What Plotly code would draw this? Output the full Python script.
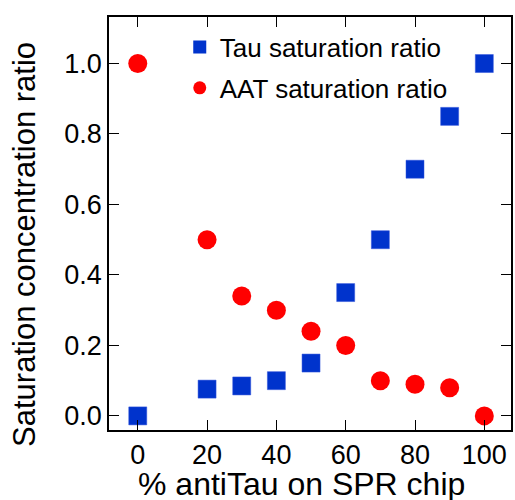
import plotly.graph_objects as go

pct_antitau = [0, 20, 30, 40, 50, 60, 70, 80, 90, 100]
tau_ratio = [0.0, 0.076, 0.085, 0.10, 0.15, 0.35, 0.50, 0.70, 0.85, 1.0]
aat_ratio = [1.0, 0.50, 0.34, 0.30, 0.24, 0.20, 0.10, 0.09, 0.08, 0.0]

x_ticks = [0, 20, 40, 60, 80, 100]
y_ticks = [0.0, 0.2, 0.4, 0.6, 0.8, 1.0]

x_title = "% antiTau on SPR chip"
y_title = "Saturation concentration ratio"

BLUE = "#0033CC"
RED = "#FF0000"
FONT = "Arial, Liberation Sans, sans-serif"

fig = go.Figure()
fig.add_trace(go.Scatter(x=pct_antitau, y=tau_ratio, mode="markers", showlegend=False,
                         marker=dict(symbol="square", size=18, color=BLUE,
                                     line=dict(color="#3355DD", width=0.5))))
fig.add_trace(go.Scatter(x=pct_antitau, y=aat_ratio, mode="markers", showlegend=False,
                         marker=dict(symbol="circle", size=19, color=RED, line=dict(width=0))))
# legend entries
fig.add_trace(go.Scatter(x=[None], y=[None], mode="markers", name="Tau saturation ratio",
                         legendgroup="tau",
                         marker=dict(symbol="square", size=13, color=BLUE)))
fig.add_trace(go.Scatter(x=[None], y=[None], mode="markers", name="AAT saturation ratio",
                         legendgroup="aat",
                         marker=dict(symbol="circle", size=13, color=RED)))

axis_common = dict(showline=True, linecolor="black", linewidth=1.5, mirror="allticks",
                   ticks="inside", ticklen=10, tickwidth=1.2, tickcolor="black",
                   showgrid=False, zeroline=False,
                   tickfont=dict(family=FONT, size=27, color="black"))

fig.update_xaxes(range=[-8.3, 107.7], tickvals=x_ticks, **axis_common)
fig.update_yaxes(range=[-0.04, 1.132], tickvals=y_ticks, tickformat=".1f", **axis_common)

fig.add_annotation(text=x_title, xref="paper", yref="paper", x=0.478, y=-0.131,
                   xanchor="center", yanchor="middle", showarrow=False,
                   font=dict(family=FONT, size=32, color="black"))
fig.add_annotation(text=y_title, xref="paper", yref="paper", x=-0.212, y=0.45,
                   xanchor="center", yanchor="middle", showarrow=False, textangle=-90,
                   font=dict(family=FONT, size=31, color="black"))

fig.update_layout(
    width=515, height=500,
    margin=dict(l=109, r=2, t=17, b=70),
    paper_bgcolor="white", plot_bgcolor="white",
    font=dict(family=FONT, color="black"),
    legend=dict(x=0.176, y=0.984, xanchor="left", yanchor="top",
                bgcolor="rgba(0,0,0,0)", font=dict(family=FONT, size=26, color="black"),
                traceorder="grouped", tracegroupgap=4, itemsizing="trace"),
)

fig.write_html("out.html")
